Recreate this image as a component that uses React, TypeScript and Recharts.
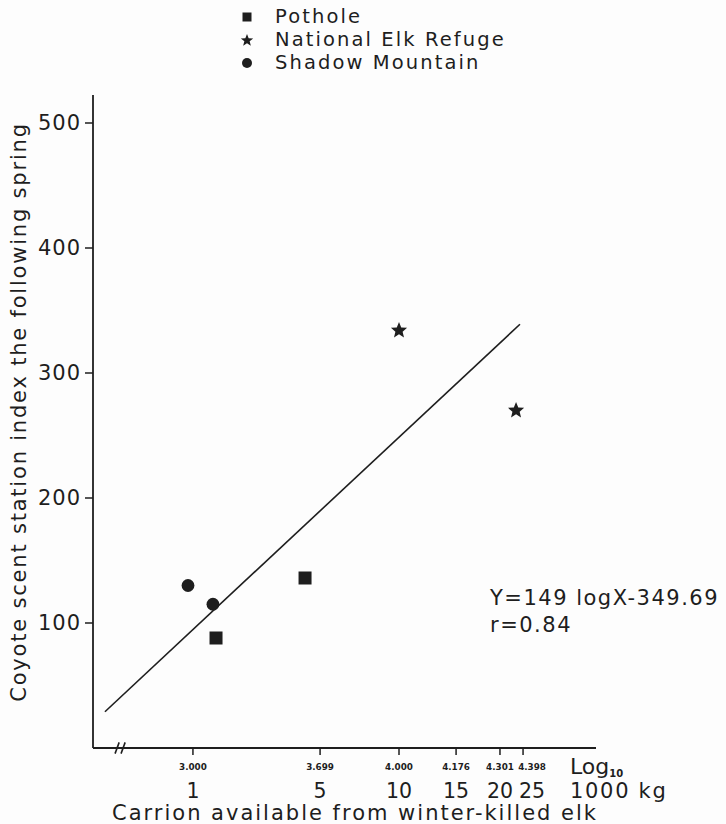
import React from 'react';
import { ComposedChart, Scatter, Line, XAxis, YAxis, ReferenceLine, Legend, Customized } from 'recharts';

const INK = '#1e1e1e';
const BG = '#fdfdfd';
const FONT = '"DejaVu Sans", sans-serif';

const SERIES = ['Pothole', 'National Elk Refuge', 'Shadow Mountain'];

// x is read in the drawing's log10 units (3 = 1000 kg, 4 = 10 000 kg)
const POTHOLE = [
  { x: 3.112, y: 88 },
  { x: 3.544, y: 136 },
];
const ELK_REFUGE = [
  { x: 4.0, y: 334 },
  { x: 4.568, y: 270 },
];
const SHADOW_MTN = [
  { x: 2.976, y: 130 },
  { x: 3.097, y: 115 },
];
// ends of the fitted line as drawn
const FIT_LINE = [
  { x: 2.573, y: 29 },
  { x: 4.587, y: 339 },
];

// tick marks sit where the original draws them (its spacing is not true log spacing)
const X_TICKS = [3, 3.617, 4, 4.277, 4.49, 4.602];
const LOG_LABELS = ['3.000', '3.699', '4.000', '4.176', '4.301', '4.398'];
const KG_LABELS = ['1', '5', '10', '15', '20', '25'];
const Y_TICKS = [100, 200, 300, 400, 500];

const starPoints = (cx: number, cy: number, R: number, r: number) => {
  const pts: string[] = [];
  for (let i = 0; i < 10; i++) {
    const rad = i % 2 === 0 ? R : r;
    const a = -Math.PI / 2 + (i * Math.PI) / 5;
    pts.push(`${cx + rad * Math.cos(a)},${cy + rad * Math.sin(a)}`);
  }
  return pts.join(' ');
};

const SquareMark = (p: any) => <rect x={p.cx - 6.5} y={p.cy - 6.5} width={13} height={13} fill={INK} />;
const StarMark = (p: any) => <polygon points={starPoints(p.cx, p.cy, 8.5, 3.8)} fill={INK} />;
const CircleMark = (p: any) => <circle cx={p.cx} cy={p.cy} r={6.4} fill={INK} />;

const legendIcon = (i: number) => {
  if (i === 0) return <rect x={5.5} y={5.5} width={9} height={9} fill={INK} />;
  if (i === 1) return <polygon points={starPoints(10, 10.5, 6.5, 2.8)} fill={INK} />;
  return <circle cx={10} cy={10} r={5} fill={INK} />;
};

const LegendBox = () => (
  <div style={{ fontFamily: FONT }}>
    {SERIES.map((name, i) => (
      <div key={name} style={{ display: 'flex', alignItems: 'center', height: 23 }}>
        <svg width={20} height={20} style={{ marginRight: 18 }}>{legendIcon(i)}</svg>
        <span style={{ fontSize: 19.5, lineHeight: '22px', letterSpacing: 2.1, color: INK, whiteSpace: 'nowrap' }}>{name}</span>
      </div>
    ))}
  </div>
);

const XTick = (props: any) => {
  const { x, y, payload } = props;
  const i = X_TICKS.indexOf(payload.value);
  // the last pair of labels is nudged right in the original so it clears its neighbour
  const dx = i === X_TICKS.length - 1 ? 9 : 0;
  return (
    <g>
      <text x={x + dx} y={y + 13} textAnchor="middle" fontSize={8.8} fontWeight="bold" fill={INK}>{LOG_LABELS[i]}</text>
      <text x={x + dx} y={y + 40.5} textAnchor="middle" fontSize={20.5} fill={INK}>{KG_LABELS[i]}</text>
    </g>
  );
};

const Notes = () => (
  <g fill={INK} style={{ fontFamily: FONT }}>
    <text x={26} y={412} transform="rotate(-90 26 412)" textAnchor="middle" fontSize={21} letterSpacing={1.8}>
      Coyote scent station index the following spring
    </text>
    <text x={490} y={604.5} fontSize={21} letterSpacing={1.5}>Y=149 logX-349.69</text>
    <text x={490} y={632} fontSize={21} letterSpacing={1.5}>r=0.84</text>
    <text x={570} y={774} fontSize={22}>Log<tspan fontSize={10} fontWeight="bold" dy={3}>10</tspan></text>
    <text x={570} y={797.5} fontSize={21} letterSpacing={1.7}>1000 kg</text>
    <text x={355} y={819.5} textAnchor="middle" fontSize={21} letterSpacing={2}>
      Carrion available from winter-killed elk
    </text>
  </g>
);

export default function App() {
  return (
    <div style={{ position: 'absolute', left: 0, top: 0, width: 726, height: 824, background: BG, fontFamily: FONT }}>
      <ComposedChart width={726} height={824} margin={{ top: 95, right: 130, bottom: 46, left: 33 }}>
        <XAxis
          type="number"
          dataKey="x"
          domain={[2.515, 4.956]}
          allowDataOverflow
          ticks={X_TICKS}
          interval={0}
          tick={<XTick />}
          tickSize={7}
          height={30}
          axisLine={{ stroke: INK, strokeWidth: 1.8 }}
          tickLine={{ stroke: INK, strokeWidth: 1.5 }}
        />
        <YAxis
          type="number"
          dataKey="y"
          domain={[0, 522.4]}
          ticks={Y_TICKS}
          interval={0}
          width={60}
          tickSize={8}
          tickMargin={4}
          tick={{ fill: INK, fontSize: 21, letterSpacing: 1 }}
          axisLine={{ stroke: INK, strokeWidth: 1.8 }}
          tickLine={{ stroke: INK, strokeWidth: 1.5 }}
        />
        {/* axis break */}
        <ReferenceLine segment={[{ x: 2.632, y: 0 }, { x: 2.661, y: 0 }]} stroke={BG} strokeWidth={4} ifOverflow="visible" />
        <ReferenceLine segment={[{ x: 2.622, y: -4.5 }, { x: 2.642, y: 4.5 }]} stroke={INK} strokeWidth={1.6} ifOverflow="visible" />
        <ReferenceLine segment={[{ x: 2.651, y: -4.5 }, { x: 2.671, y: 4.5 }]} stroke={INK} strokeWidth={1.6} ifOverflow="visible" />
        <Line data={FIT_LINE} dataKey="y" type="linear" stroke={INK} strokeWidth={1.6} dot={false} legendType="none" isAnimationActive={false} />
        <Scatter name={SERIES[0]} data={POTHOLE} shape={SquareMark} isAnimationActive={false} />
        <Scatter name={SERIES[1]} data={ELK_REFUGE} shape={StarMark} isAnimationActive={false} />
        <Scatter name={SERIES[2]} data={SHADOW_MTN} shape={CircleMark} isAnimationActive={false} />
        <Legend
          layout="vertical"
          align="center"
          verticalAlign="middle"
          content={<LegendBox />}
          wrapperStyle={{ top: 5, left: 237, width: 320 }}
        />
        <Customized component={Notes} />
      </ComposedChart>
    </div>
  );
}
